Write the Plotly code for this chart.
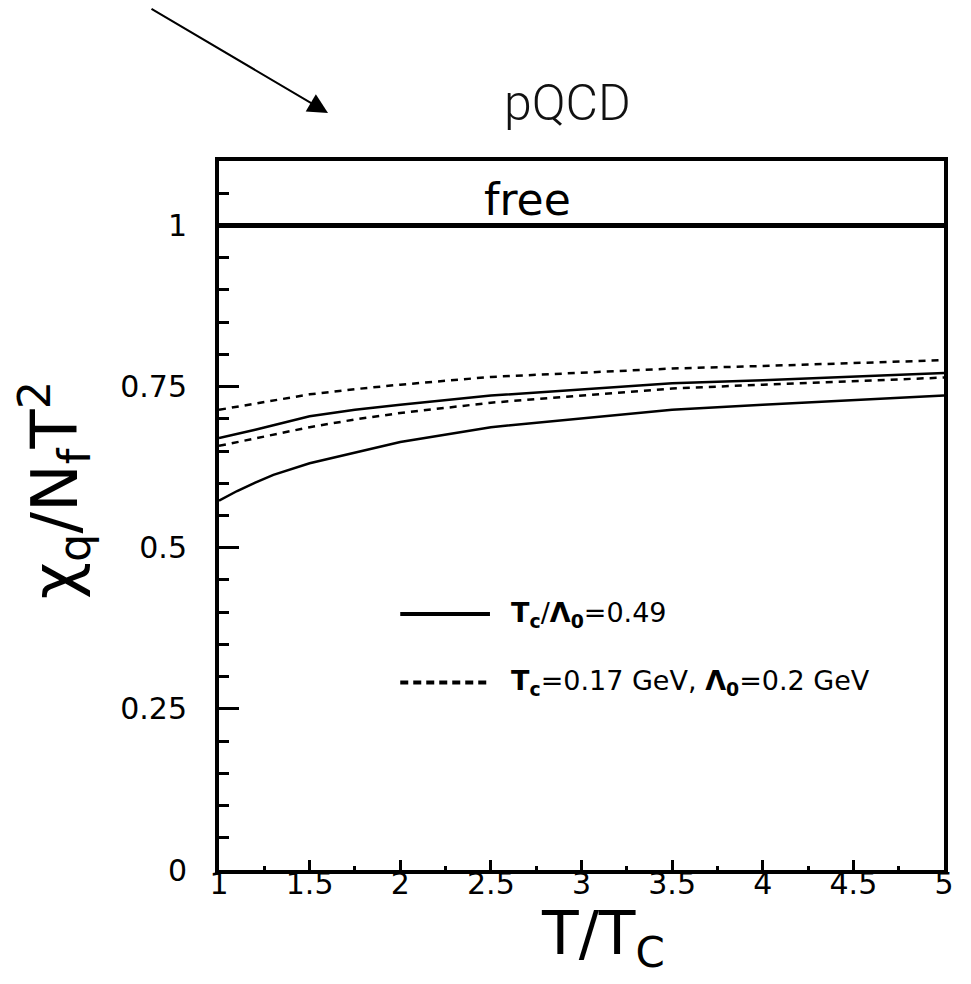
import plotly.graph_objects as go

# Data
T = [1.0, 1.1, 1.2, 1.3, 1.5, 1.75, 2.0, 2.5, 3.0, 3.5, 4.0, 4.5, 5.0]
solid_upper = [0.670, 0.676, 0.683, 0.690, 0.704, 0.714, 0.722, 0.736, 0.746, 0.755, 0.760, 0.765, 0.771]
solid_lower = [0.573, 0.588, 0.601, 0.613, 0.631, 0.648, 0.664, 0.687, 0.701, 0.714, 0.722, 0.729, 0.736]
dashed_upper = [0.714, 0.719, 0.724, 0.729, 0.738, 0.746, 0.753, 0.765, 0.772, 0.778, 0.782, 0.786, 0.791]
dashed_lower = [0.658, 0.664, 0.670, 0.676, 0.687, 0.699, 0.709, 0.725, 0.736, 0.747, 0.753, 0.758, 0.764]
free_x = [1.0, 5.0]
free_y = [1.0, 1.0]

y_ticks = [0, 0.25, 0.5, 0.75, 1]
y_labels = ["0", "0.25", "0.5", "0.75", "1"]
x_ticks = [1, 1.5, 2, 2.5, 3, 3.5, 4, 4.5, 5]
x_labels = ["1", "1.5", "2", "2.5", "3", "3.5", "4", "4.5", "5"]

legend_solid_x = [2.0, 2.495]
legend_solid_y = [0.397, 0.397]
legend_dash_x = [2.0, 2.495]
legend_dash_y = [0.291, 0.291]
legend_text = ["<b>T<sub>c</sub></b>/<b>Λ<sub>0</sub></b>=0.49",
               "<b>T<sub>c</sub></b>=0.17 GeV, <b>Λ<sub>0</sub></b>=0.2 GeV"]

fig = go.Figure()
fig.add_trace(go.Scatter(x=free_x, y=free_y, mode="lines",
                         line=dict(color="black", width=5), showlegend=False))
for ys in (solid_upper, solid_lower):
    fig.add_trace(go.Scatter(x=T, y=ys, mode="lines",
                             line=dict(color="black", width=2.5), showlegend=False))
for ys in (dashed_upper, dashed_lower):
    fig.add_trace(go.Scatter(x=T, y=ys, mode="lines",
                             line=dict(color="black", width=2.5, dash="7px,6px"),
                             showlegend=False))
fig.add_trace(go.Scatter(x=legend_solid_x, y=legend_solid_y, mode="lines",
                         line=dict(color="black", width=4), showlegend=False))
fig.add_trace(go.Scatter(x=legend_dash_x, y=legend_dash_y, mode="lines",
                         line=dict(color="black", width=4, dash="8px,5px"),
                         showlegend=False))

tickfont = dict(family="DejaVu Sans", size=30, color="black")

fig.update_xaxes(range=[1, 5], tickvals=x_ticks, ticktext=x_labels,
                 ticks="inside", ticklen=10, tickwidth=3, tickcolor="black",
                 minor=dict(dtick=0.25, tick0=1, ticks="inside", ticklen=4,
                            tickwidth=3, tickcolor="black"),
                 showline=True, linewidth=4, linecolor="black", mirror=True,
                 showgrid=False, zeroline=False, tickfont=tickfont,
                 ticklabelstandoff=-16, automargin=False)
fig.update_yaxes(range=[0, 1.1], tickvals=y_ticks, ticktext=y_labels,
                 ticks="inside", ticklen=20, tickwidth=3, tickcolor="black",
                 minor=dict(dtick=0.05, tick0=0, ticks="inside", ticklen=10,
                            tickwidth=3, tickcolor="black"),
                 showline=True, linewidth=4, linecolor="black", mirror=True,
                 showgrid=False, zeroline=False, tickfont=tickfont,
                 ticklabelstandoff=22, automargin=False)

# page pixel -> paper fraction (plot area spans x 219..944, y 161..870 on the page)
def px_x(px):
    return (px - 219) / 725

def px_y(py):
    return (870 - py) / 709

annotations = [
    dict(x=2.70, y=1.0, xref="x", yref="y", yshift=-2, text="free",
         showarrow=False, yanchor="bottom",
         font=dict(family="DejaVu Sans", size=44, color="black")),
    dict(x=2.60, y=legend_solid_y[0], xref="x", yref="y", text=legend_text[0],
         showarrow=False, xanchor="left", yanchor="middle",
         font=dict(family="DejaVu Sans", size=27, color="black")),
    dict(x=2.60, y=legend_dash_y[0], xref="x", yref="y", text=legend_text[1],
         showarrow=False, xanchor="left", yanchor="middle",
         font=dict(family="DejaVu Sans", size=27, color="black")),
    dict(x=px_x(567), y=px_y(103), xref="paper", yref="paper",
         text="pQCD", showarrow=False, xanchor="center", yanchor="middle",
         font=dict(family="Roboto", size=50, color="#111", weight=300)),
    dict(x=px_x(603), y=px_y(937), xref="paper", yref="paper",
         text="T/T<sub>C</sub>", showarrow=False, xanchor="center", yanchor="middle",
         font=dict(family="DejaVu Sans", size=60, color="black")),
    dict(x=px_x(55), y=px_y(490), xref="paper", yref="paper", textangle=-90,
         text="χ<sub>q</sub>/N<sub>f</sub>T<sup>2</sup>", showarrow=False,
         xanchor="center", yanchor="middle",
         font=dict(family="DejaVu Sans", size=64, color="black")),
    dict(x=px_x(328), y=px_y(113), xref="paper", yref="paper",
         ax=-178, ay=-105, text="", showarrow=True, arrowhead=2,
         arrowsize=2, arrowwidth=2, arrowcolor="black"),
]

# The page body has an 8px margin; margins compensate so the plot area
# lands at the reference position.
fig.update_layout(width=955, height=968,
                  margin=dict(l=211, r=19, t=153, b=106),
                  plot_bgcolor="white", paper_bgcolor="white",
                  annotations=annotations)

fig.write_html("out.html")
